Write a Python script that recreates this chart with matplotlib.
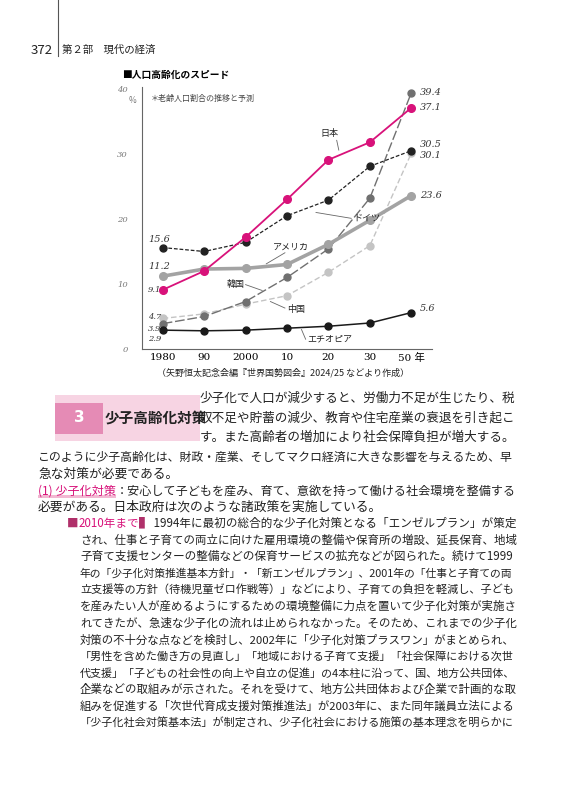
import matplotlib
matplotlib.use("Agg")
import matplotlib.pyplot as plt
from matplotlib.patches import Rectangle
from matplotlib.lines import Line2D

plt.rcParams['font.family'] = ['Noto Sans CJK JP', 'DejaVu Sans']

years = ["1980", "90", "2000", "10", "20", "30", "50 年"]
japan = [9.1, 12.0, 17.2, 23.0, 29.1, 31.8, 37.1]
germany = [15.6, 15.0, 16.4, 20.5, 22.9, 28.1, 30.5]
usa = [11.2, 12.3, 12.4, 13.0, 16.1, 19.8, 23.6]
korea = [3.9, 5.0, 7.3, 11.0, 15.4, 23.2, 39.4]
china = [4.7, 5.4, 6.9, 8.2, 11.8, 15.9, 30.1]
ethiopia = [2.9, 2.8, 2.9, 3.2, 3.5, 4.0, 5.6]
yticks = [0, 10, 20, 30, 40]

W, H = 569, 800
fig = plt.figure(figsize=(W/100, H/100), dpi=100)
PINK = '#d8127a'

def fx(px): return px / W
def fy(py): return 1 - py / H

# header
fig.add_artist(Line2D([fx(58), fx(58)], [fy(0), fy(56)], color='#555', lw=0.8))
fig.text(fx(53), fy(50), "372", ha='right', va='center', fontsize=9.5, color='#222')
fig.text(fx(62), fy(50), "第２部　現代の経済", ha='left', va='center', fontsize=7.5, color='#222')

# chart
ax = fig.add_axes([fx(142), fy(349), fx(432) - fx(142), fy(87) - fy(349)])
x = list(range(len(years)))
series = [
    (china, dict(color='#c4c4c4', lw=1.0, ls=(0, (4, 2)), marker='o', ms=5)),
    (korea, dict(color='#707070', lw=1.0, ls=(0, (7, 2)), marker='o', ms=5)),
    (usa, dict(color='#a3a3a3', lw=2.6, ls='-', marker='o', ms=5.5)),
    (germany, dict(color='#222222', lw=0.9, ls=(0, (3, 1.5)), marker='o', ms=5)),
    (ethiopia, dict(color='#1a1a1a', lw=1.1, ls='-', marker='o', ms=5)),
    (japan, dict(color=PINK, lw=1.3, ls='-', marker='o', ms=5.5)),
]
for vals, st in series:
    ax.plot(x, vals, **st, zorder=3)
ax.set_xlim(-0.5, 6.5)
ax.set_ylim(0, 40.3)
ax.set_xticks(x)
ax.set_xticklabels(years, fontsize=7.5, family=['DejaVu Serif', 'Noto Sans CJK JP'])
ax.set_yticks(yticks)
ax.set_yticklabels([str(v) for v in yticks], fontsize=6, style='italic', color='#777',
                   family=['DejaVu Serif'])
ax.tick_params(length=0, pad=3)
ax.tick_params(axis='y', pad=10)
for s in ['top', 'right']:
    ax.spines[s].set_visible(False)
for s in ['left', 'bottom']:
    ax.spines[s].set_color('#666')
    ax.spines[s].set_linewidth(0.8)
ax.text(-0.63, 38.3, "%", fontsize=6, color='#777', ha='right', va='center', style='italic')
ax.text(-0.3, 38.5, "＊老齢人口割合の推移と予測", fontsize=5.8, color='#444', va='center')

vf = dict(fontsize=7, style='italic', family=['DejaVu Serif'], color='#333')
ax.text(6.2, korea[-1], f"{korea[-1]}", va='center', **vf)
ax.text(6.2, japan[-1], f"{japan[-1]}", va='center', **vf)
ax.text(6.2, germany[-1] + 1.0, f"{germany[-1]}", va='center', **vf)
ax.text(6.2, china[-1] - 0.3, f"{china[-1]}", va='center', **vf)
ax.text(6.2, usa[-1], f"{usa[-1]}", va='center', **vf)
ax.text(6.2, ethiopia[-1] + 0.6, f"{ethiopia[-1]}", va='center', **vf)
ax.text(-0.35, germany[0] + 1.3, f"{germany[0]}", va='center', **vf)
ax.text(-0.35, usa[0] + 1.5, f"{usa[0]}", va='center', **vf)
vs = dict(vf, fontsize=6)
ax.text(-0.35, japan[0], f"{japan[0]}", va='center', **vs)
ax.text(-0.35, china[0] + 0.2, f"{china[0]}", va='center', **vs)
ax.text(-0.35, korea[0] - 0.9, f"{korea[0]}", va='center', **vs)
ax.text(-0.35, ethiopia[0] - 1.4, f"{ethiopia[0]}", va='center', **vs)

lf = dict(fontsize=6.5, color='#222', va='center')
def lab(tx, ty, s, x0, y0, x1, y1, ha='left'):
    ax.text(tx, ty, s, ha=ha, **lf)
    ax.plot([x0, x1], [y0, y1], color='#666', lw=0.6, zorder=2)
lab(3.8, 33.1, "日本", 4.2, 32.1, 4.25, 30.6)
lab(4.6, 20.1, "ドイツ", 4.55, 20.1, 3.7, 21.0)
lab(2.65, 15.6, "アメリカ", 2.95, 14.8, 2.5, 13.1)
lab(1.55, 9.9, "韓国", 2.0, 9.9, 2.4, 9.0)
lab(3.0, 6.1, "中国", 2.95, 6.3, 2.6, 7.3)
lab(3.5, 1.5, "エチオピア", 3.45, 1.5, 3.35, 3.0)

fig.text(fx(122), fy(75), "■人口高齢化のスピード", fontsize=7, weight='bold', va='center')
fig.text(fx(283), fy(373), "（矢野恒太記念会編『世界国勢図会』2024/25 などより作成）",
         fontsize=6.5, ha='center', va='center', color='#222')

# section box
fig.add_artist(Rectangle((fx(55), fy(441)), fx(200) - fx(55), fy(395) - fy(441),
                         transform=fig.transFigure, color='#f7d4e3', lw=0))
fig.add_artist(Rectangle((fx(55), fy(434)), fx(103) - fx(55), fy(403) - fy(434),
                         transform=fig.transFigure, color='#e58bb5', lw=0))
fig.text(fx(79), fy(418), "3", color='white', fontsize=11, weight='bold', ha='center', va='center',
         family=['DejaVu Sans'])
fig.text(fx(105), fy(418), "少子高齢化対策", fontsize=10.5, weight='bold', va='center', color='#222')

fig.canvas.draw()
R = fig.canvas.get_renderer()

def line(xp, yp, segs, right=None, fs=9.6):
    # segs: list of (text, color)
    def draw(fsz):
        arts = []
        cx = xp
        for s, c in segs:
            t = fig.text(fx(cx), fy(yp), s, fontsize=fsz, color=c, va='center', ha='left')
            bb = t.get_window_extent(R)
            cx += bb.width
            arts.append((t, bb))
        return arts, cx
    arts, cx = draw(fs)
    if right is not None:
        fs2 = fs * (right - xp) / (cx - xp)
        for t, _ in arts:
            t.remove()
        arts, cx = draw(fs2)
    return arts

K = '#222'
RE = 516
line(200, 398, [("少子化で人口が減少すると、労働力不足が生じたり、税", K)], RE)
line(200, 418, [("収不足や貯蓄の減少、教育や住宅産業の衰退を引き起こ", K)], RE)
line(200, 437, [("す。また高齢者の増加により社会保障負担が増大する。", K)], RE)
line(38, 457, [("このように少子高齢化は、財政・産業、そしてマクロ経済に大きな影響を与えるため、早", K)], RE)
line(38, 474, [("急な対策が必要である。", K)], None, 9.2)
a = line(38, 491, [("(1) 少子化対策", PINK), ("：安心して子どもを産み、育て、意欲を持って働ける社会環境を整備する", K)], RE)
bb = a[0][1]
fig.add_artist(Rectangle((bb.x0 / W, bb.y0 / H), bb.width / W, 3 / H, transform=fig.transFigure,
                         color='#f2b8d2', lw=0, zorder=0))
line(38, 507, [("必要がある。日本政府は次のような諸政策を実施している。", K)], None, 9.2)
line(67, 523, [("■", '#b0306a'), ("2010年まで", PINK), ("▌", '#b0306a'),
               (" 1994年に最初の総合的な少子化対策となる「エンゼルプラン」が策定", K)], RE)
body = [
    "され、仕事と子育ての両立に向けた雇用環境の整備や保育所の増設、延長保育、地域",
    "子育て支援センターの整備などの保育サービスの拡充などが図られた。続けて1999",
    "年の「少子化対策推進基本方針」・「新エンゼルプラン」、2001年の「仕事と子育ての両",
    "立支援等の方針（待機児童ゼロ作戦等）」などにより、子育ての負担を軽減し、子ども",
    "を産みたい人が産めるようにするための環境整備に力点を置いて少子化対策が実施さ",
    "れてきたが、急速な少子化の流れは止められなかった。そのため、これまでの少子化",
    "対策の不十分な点などを検討し、2002年に「少子化対策プラスワン」がまとめられ、",
    "「男性を含めた働き方の見直し」「地域における子育て支援」「社会保障における次世",
    "代支援」「子どもの社会性の向上や自立の促進」の4本柱に沿って、国、地方公共団体、",
    "企業などの取組みが示された。それを受けて、地方公共団体および企業で計画的な取",
    "組みを促進する「次世代育成支援対策推進法」が2003年に、また同年議員立法による",
    "「少子化社会対策基本法」が制定され、少子化社会における施策の基本理念を明らかに",
]
for i, s in enumerate(body):
    line(80, 540 + i * 16.65, [(s, K)], RE)

fig.savefig("out.png", dpi=100)
